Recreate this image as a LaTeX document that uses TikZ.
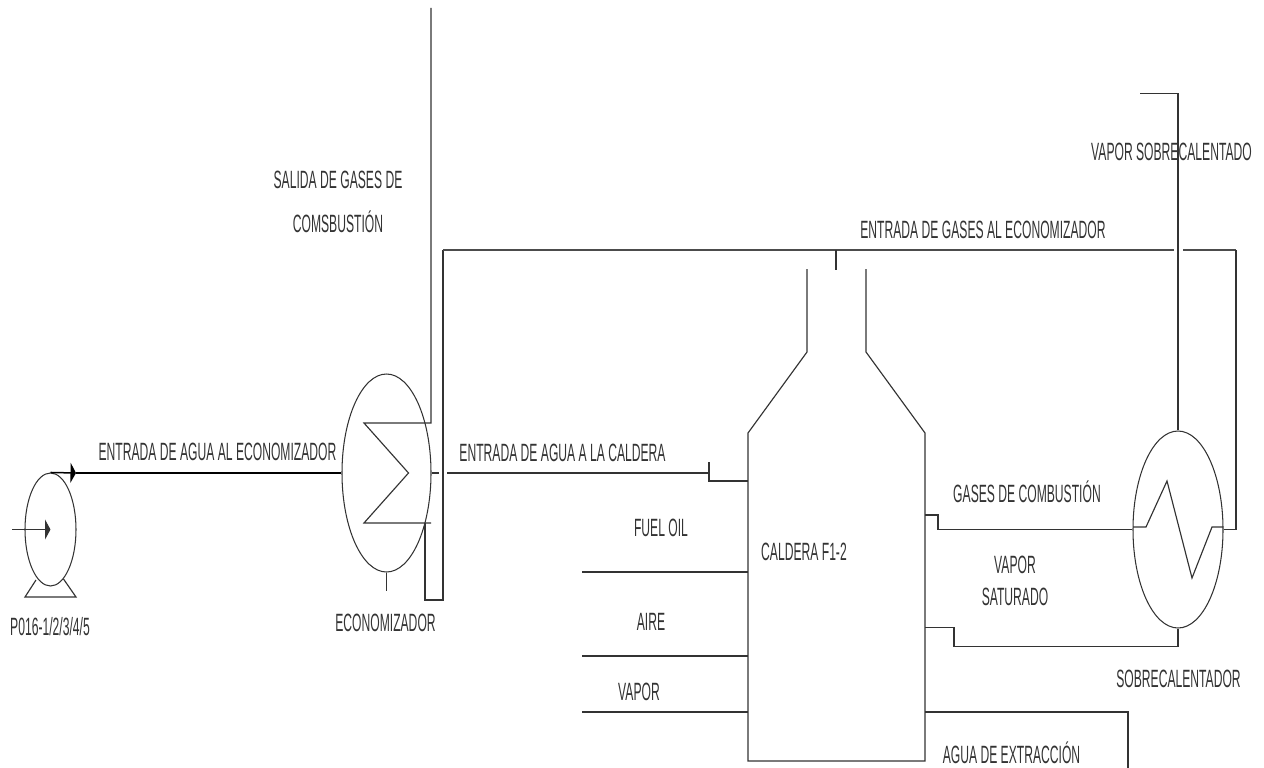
\documentclass[tikz,border=0pt]{standalone}
\usepackage{fontspec}
\setmainfont[FakeStretch=0.485]{Liberation Sans}
\usetikzlibrary{arrows.meta,shapes.geometric}
\definecolor{ink}{gray}{0.2}
\tikzset{
 pipe/.style={draw=ink,line width=1.15pt,line join=miter},
 gasline/.style={draw=black!70,line width=2pt,line join=miter},
 vessel/.style={ellipse,draw=ink,line width=1.05pt,inner sep=0pt,fill=none},
 lbl/.style={inner sep=0pt,text=ink,font=\fontsize{25}{28}\selectfont,anchor=center},
 flowtip/.style={-{Triangle[length=5.5pt,width=20pt]}}
}
\begin{document}
\begin{tikzpicture}[x=1pt,y=-1pt]
\useasboundingbox (0,0) rectangle (1264,768);
% equipment
\node[vessel,minimum width=51pt,minimum height=113pt] (pump) at (50.5,529.5) {};
\node[vessel,minimum width=89pt,minimum height=198pt] (eco) at (386.5,473) {};
\node[vessel,minimum width=90pt,minimum height=197pt] (sob) at (1178,529.5) {};
% coordinates
\coordinate (pin) at (12,529.5);
\coordinate (pl) at (36,580); \coordinate (pr) at (63.5,579);
\coordinate (bl) at (25,597); \coordinate (br) at (76,597);
\coordinate (ptip) at (76,473);
\coordinate (ecoA) at (431,423); \coordinate (ecoB) at (364,423); \coordinate (ecoC) at (408.5,473);
\coordinate (ecoD) at (364,523); \coordinate (ecoE) at (431,523);
\coordinate (stack) at (431,8);
\coordinate (gA) at (425,523); \coordinate (gB) at (425,600); \coordinate (gC) at (443,600);
\coordinate (gD) at (443,250); \coordinate (gG) at (1174,250); \coordinate (gH) at (1183,250);
\coordinate (gE) at (1236,250); \coordinate (gF) at (1236,529.5);
\coordinate (ecoS) at (386.5,591);
\coordinate (w1) at (439,473); \coordinate (w2) at (447,473); \coordinate (w3) at (709,473);
\coordinate (w4) at (709,462); \coordinate (w5) at (709,481); \coordinate (w6) at (748,481);
% boiler
\coordinate (bTL) at (807,269); \coordinate (bNL) at (807,352); \coordinate (bSL) at (748,433);
\coordinate (bBL) at (748,761); \coordinate (bBR) at (925,761); \coordinate (bSR) at (925,433);
\coordinate (bNR) at (866,352); \coordinate (bTR) at (866,269);
\coordinate (st1) at (836,250); \coordinate (st2) at (836,270);
\coordinate (f1) at (582,572); \coordinate (f2) at (748,572);
\coordinate (a1) at (582,656); \coordinate (a2) at (748,656);
\coordinate (v1) at (582,712); \coordinate (v2) at (748,712);
\coordinate (c1) at (925,515); \coordinate (c2) at (938,515); \coordinate (c3) at (938,529.5);
\coordinate (s1) at (925,627.5); \coordinate (s2) at (954,627.5); \coordinate (s3) at (954,646.5); \coordinate (s4) at (1178,646.5);
\coordinate (x1) at (925,712); \coordinate (x2) at (1128,712); \coordinate (x3) at (1128,768);
\coordinate (t1) at (1178,93.5); \coordinate (t2) at (1140,93.5);
\coordinate (z1) at (1133,527); \coordinate (z2) at (1146,527); \coordinate (z3) at (1167,481);
\coordinate (z4) at (1192,578); \coordinate (z5) at (1212,527); \coordinate (z6) at (1223,527);
% pump
\draw[pipe] (pl) -- (bl) -- (br) -- (pr);
\draw[pipe,flowtip] (pin) -- (pump.center);
\draw[pipe,line width=1.5pt,draw=black,flowtip] (pump.north) -- (ptip);
\draw[pipe,line width=1.5pt,draw=black] (ptip) -- (eco.west);
% economizer
\draw[pipe] (stack) -- (ecoA) -- (ecoB) -- (ecoC) -- (ecoD) -- (ecoE);
\draw[pipe] (eco.south) -- (ecoS);
\draw[pipe] (gA) -- (gB) -- (gC) -- (gD);
\draw[gasline] (gD) -- (gG);
\draw[gasline] (gH) -- (gE);
\draw[pipe] (gE) -- (gF) -- (sob.east);
\draw[pipe] (eco.east) -- (w1);
\draw[pipe,line width=1.4pt] (w2) -- (w3);
\draw[pipe] (w4) -- (w5) -- (w6);
% boiler
\draw[pipe] (bTL) -- (bNL) -- (bSL) -- (bBL) -- (bBR) -- (bSR) -- (bNR) -- (bTR);
\draw[pipe] (st1) -- (st2);
\draw[pipe] (f1) -- (f2);
\draw[pipe] (a1) -- (a2);
\draw[pipe] (v1) -- (v2);
\draw[pipe] (c1) -- (c2) -- (c3) -- (sob.west);
\draw[pipe] (s1) -- (s2) -- (s3) -- (s4) -- (sob.south);
\draw[pipe] (x1) -- (x2) -- (x3);
% superheater
\draw[pipe] (sob.north) -- (t1) -- (t2);
\draw[pipe] (z1) -- (z2) -- (z3) -- (z4) -- (z5) -- (z6);
% labels
\node[lbl] (l1) at (217.5,452) {ENTRADA DE AGUA AL ECONOMIZADOR};
\node[lbl] (l2) at (50,627) {P016-1/2/3/4/5};
\node[lbl] (l3) at (385.5,623) {ECONOMIZADOR};
\node[lbl] (l4) at (338,180) {SALIDA DE GASES DE};
\node[lbl] (l5) at (338,222) {COMSBUSTIÓN};
\node[lbl] (l6) at (562.5,453) {ENTRADA DE AGUA A LA CALDERA};
\node[lbl] (l7) at (983,230) {ENTRADA DE GASES AL ECONOMIZADOR};
\node[lbl] (l8) at (1171.5,152) {VAPOR SOBRECALENTADO};
\node[lbl] (l9) at (661,528) {FUEL OIL};
\node[lbl] (l10) at (651,622) {AIRE};
\node[lbl] (l11) at (639,692) {VAPOR};
\node[lbl] (l12) at (804,552) {CALDERA F1-2};
\node[lbl] (l13) at (1027,492) {GASES DE COMBUSTIÓN};
\node[lbl] (l14) at (1015,565) {VAPOR};
\node[lbl] (l15) at (1015,597) {SATURADO};
\node[lbl] (l16) at (1178.5,679) {SOBRECALENTADOR};
\node[lbl] (l17) at (1011.5,753) {AGUA DE EXTRACCIÓN};
\end{tikzpicture}
\end{document}
